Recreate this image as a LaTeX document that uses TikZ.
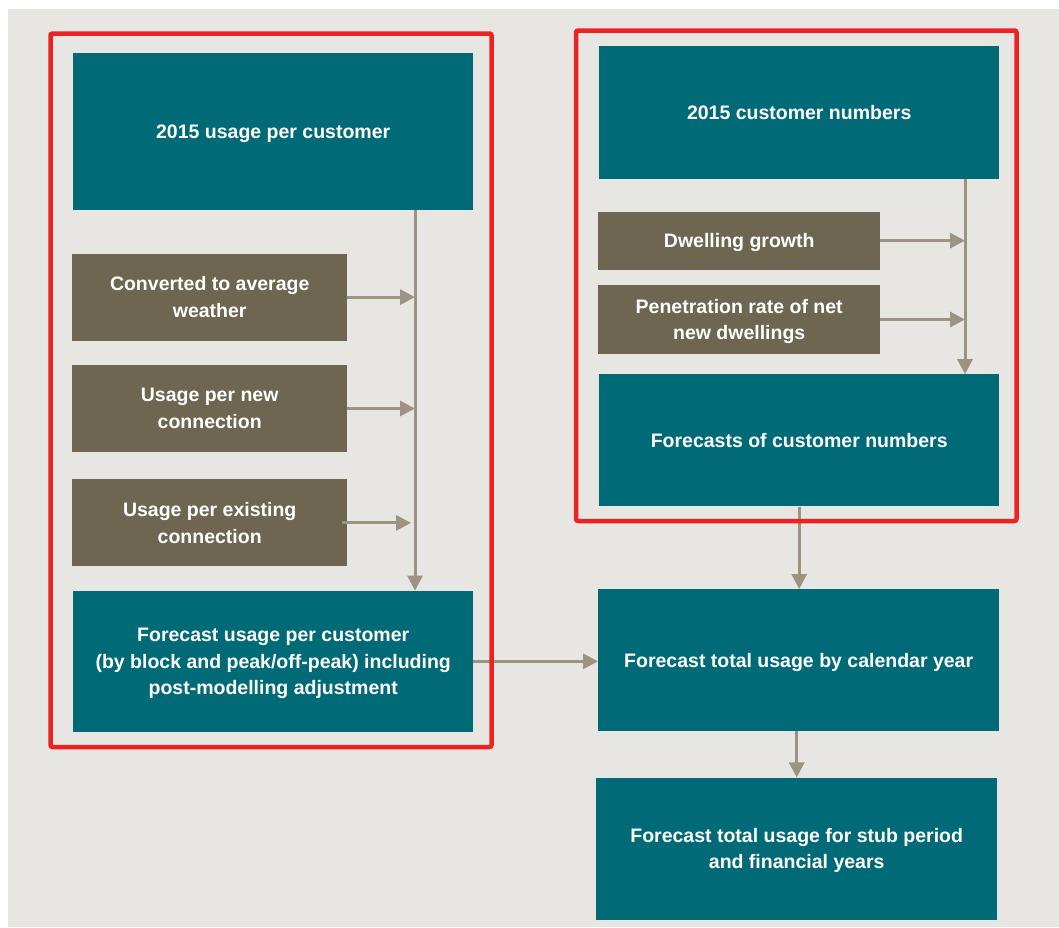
\documentclass[tikz,border=0pt]{standalone}
\usepackage{fontspec}
\setmainfont{Liberation Sans}
\usepackage{tikz}
\usetikzlibrary{arrows.meta,positioning}
\definecolor{deepteal}{HTML}{006A77}
\definecolor{earth}{HTML}{6E6650}
\definecolor{linkgrey}{HTML}{9C9380}
\definecolor{panel}{HTML}{E8E6E2}
\definecolor{frame}{HTML}{EE2222}

\begin{document}
\begin{tikzpicture}[x=1pt, y=-1pt,
    tealbox/.style={fill=deepteal, text=white, inner sep=0pt, align=center, text depth=0pt,
        font=\bfseries\fontsize{19.5}{26.5}\selectfont},
    earthbox/.style={tealbox, fill=earth, minimum width=275pt, minimum height=87pt},
    flow/.style={draw=linkgrey, line width=3pt, -{Triangle[length=15pt, width=15pt]}},
    group/.style={draw=frame, line width=4.5pt, rounded corners=2pt}
]
    \useasboundingbox (0,0) rectangle (1059,927);
    \fill[panel] (8,9) rectangle (1059,927);

    % usage per customer column
    \node[tealbox, minimum width=400pt, minimum height=157pt, anchor=north west] (use15) at (73,53) {2015 usage per customer};
    \node[earthbox, below=43pt of use15.south west, anchor=north west, xshift=-1pt] (weather) {Converted to average\\weather};
    \node[earthbox, below=24pt of weather.south west, anchor=north west] (newconn) {Usage per new\\connection};
    \node[earthbox, below=27pt of newconn.south west, anchor=north west] (oldconn) {Usage per existing\\connection};
    \node[tealbox, minimum width=400pt, minimum height=141pt, below=24pt of oldconn.south west, anchor=north west, xshift=1pt] (fcuse) {Forecast usage per customer\\(by block and peak/off-peak) including\\post-modelling adjustment};

    % customer numbers column
    \node[tealbox, minimum width=400pt, minimum height=133pt, anchor=north west] (cust15) at (599,46) {2015 customer numbers};
    \node[tealbox, fill=earth, minimum width=282pt, minimum height=58pt, below=32pt of cust15.south west, anchor=north west, xshift=-1pt] (dwell) {Dwelling growth};
    \node[tealbox, fill=earth, minimum width=282pt, minimum height=69pt, below=15pt of dwell.south west, anchor=north west] (penet) {Penetration rate of net\\new dwellings};
    \node[tealbox, minimum width=400pt, minimum height=132pt, below=20pt of penet.south west, anchor=north west, xshift=1pt] (fcnum) {Forecasts of customer numbers};

    % totals
    \node[tealbox, minimum width=401pt, minimum height=142pt, anchor=north west] (total) at (598,589) {Forecast total usage by calendar year};
    \node[tealbox, minimum width=401pt, minimum height=142pt, below=46pt of total.south west, anchor=north west, xshift=-2pt] (stub) {Forecast total usage for stub period\\and financial years};

    % spines
    \coordinate (lspine) at (415,0);
    \coordinate (rspine) at (965,0);

    \draw[flow] (use15.south -| lspine) -- (fcuse.north -| lspine);
    \draw[flow] (weather.east) -- (weather.east -| lspine);
    \draw[flow] (newconn.east) -- (newconn.east -| lspine);
    \draw[flow] ([xshift=-5pt]oldconn.east) -- ([xshift=-4pt]oldconn.east -| lspine);

    \draw[flow] (cust15.south -| rspine) -- (fcnum.north -| rspine);
    \draw[flow] (dwell.east) -- (dwell.east -| rspine);
    \draw[flow] (penet.east) -- (penet.east -| rspine);

    \draw[flow] (fcuse.east) -- (fcuse.east -| total.west);
    \draw[flow] (fcnum.south) -- (fcnum.south |- total.north);
    \draw[flow] ([xshift=-2pt]total.south) -- ([xshift=-2pt]total.south |- stub.north);

    % red group frames
    \draw[group] (50.5,33.5) rectangle (491.5,747);
    \draw[group] (576,30.5) rectangle (1016.5,521);
\end{tikzpicture}
\end{document}
